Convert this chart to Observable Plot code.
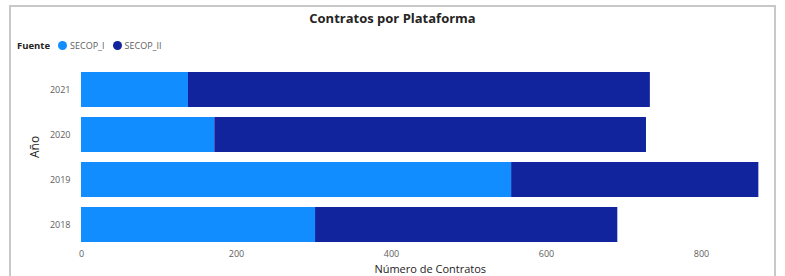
<!DOCTYPE html>
<html>
<head>
<meta charset="utf-8">
<script src="https://cdn.jsdelivr.net/npm/d3@7"></script>
<script src="https://cdn.jsdelivr.net/npm/@observablehq/plot@0.6"></script>
<style>
  html, body { margin: 0; padding: 0; background: #fff; }
  #wrap { position: relative; width: 785px; height: 276px; overflow: hidden; font-family: "Segoe UI", "Open Sans", "DejaVu Sans", sans-serif; }
  #frame { position: absolute; left: 9px; top: 5px; width: 767px; height: 290px; border: 2px solid #c8c8c8; box-sizing: border-box; }
  #title { position: absolute; left: 0; width: 785px; top: 9px; text-align: center; font-size: 13px; font-weight: bold; color: #252423; }
  #legend { position: absolute; left: 17px; top: 39px; font-size: 9px; color: #605e5c; display: flex; align-items: center; }
  #legend b { color: #252423; margin-right: 8px; font-size: 9.5px; }
  #legend .sw { display: inline-block; width: 9px; height: 9px; border-radius: 50%; margin-right: 3px; }
  #legend .it { display: flex; align-items: center; margin-right: 8px; }
  #chart { position: absolute; left: 0; top: 0; }
</style>
</head>
<body>
<div id="wrap">
  <div id="frame"></div>
  <div id="chart"></div>
  <div id="title">Contratos por Plataforma</div>
  <div id="legend"></div>
</div>
<script>
const years = ["2021", "2020", "2019", "2018"];
const secopI = [138, 172, 555, 302];
const secopII = [596, 557, 319, 390];
const series = ["SECOP_I", "SECOP_II"];
const colors = ["#118DFF", "#12239E"];
const xTicks = [0, 200, 400, 600, 800];

const data = [];
years.forEach((y, i) => {
  data.push({year: y, fuente: series[0], value: secopI[i]});
  data.push({year: y, fuente: series[1], value: secopII[i]});
});

const legend = document.getElementById("legend");
legend.innerHTML = "<b>Fuente</b>" + series.map((s, i) =>
  `<span class="it"><span class="sw" style="background:${colors[i]}"></span>${s}</span>`).join("");

const chart = Plot.plot({
  width: 785,
  height: 276,
  marginLeft: 81,
  marginRight: 6.5,
  marginTop: 67.5,
  marginBottom: 28.5,
  style: { background: "transparent", fontFamily: "Segoe UI, Open Sans, DejaVu Sans, sans-serif" },
  x: { domain: [0, 900], ticks: xTicks },
  y: { domain: years, paddingInner: 0.22, paddingOuter: 0.1 },
  color: { domain: series, range: colors },
  marks: [
    Plot.barX(data, Plot.stackX({y: "year", x: "value", fill: "fuente", order: series})),
    Plot.axisX({ticks: xTicks, tickSize: 0, tickPadding: 3, fontSize: 9, fill: "#605e5c", label: null}),
    Plot.axisY({tickSize: 0, tickPadding: 11, fontSize: 9, fill: "#605e5c", label: null}),
    Plot.text(["Número de Contratos"], {frameAnchor: "bottom", dy: 17, lineAnchor: "top", fontSize: 11, fill: "#252423"}),
    Plot.text(["Año"], {frameAnchor: "left", dx: -46, rotate: -90, fontSize: 12, fill: "#252423"})
  ]
});
document.getElementById("chart").appendChild(chart);
</script>
</body>
</html>
